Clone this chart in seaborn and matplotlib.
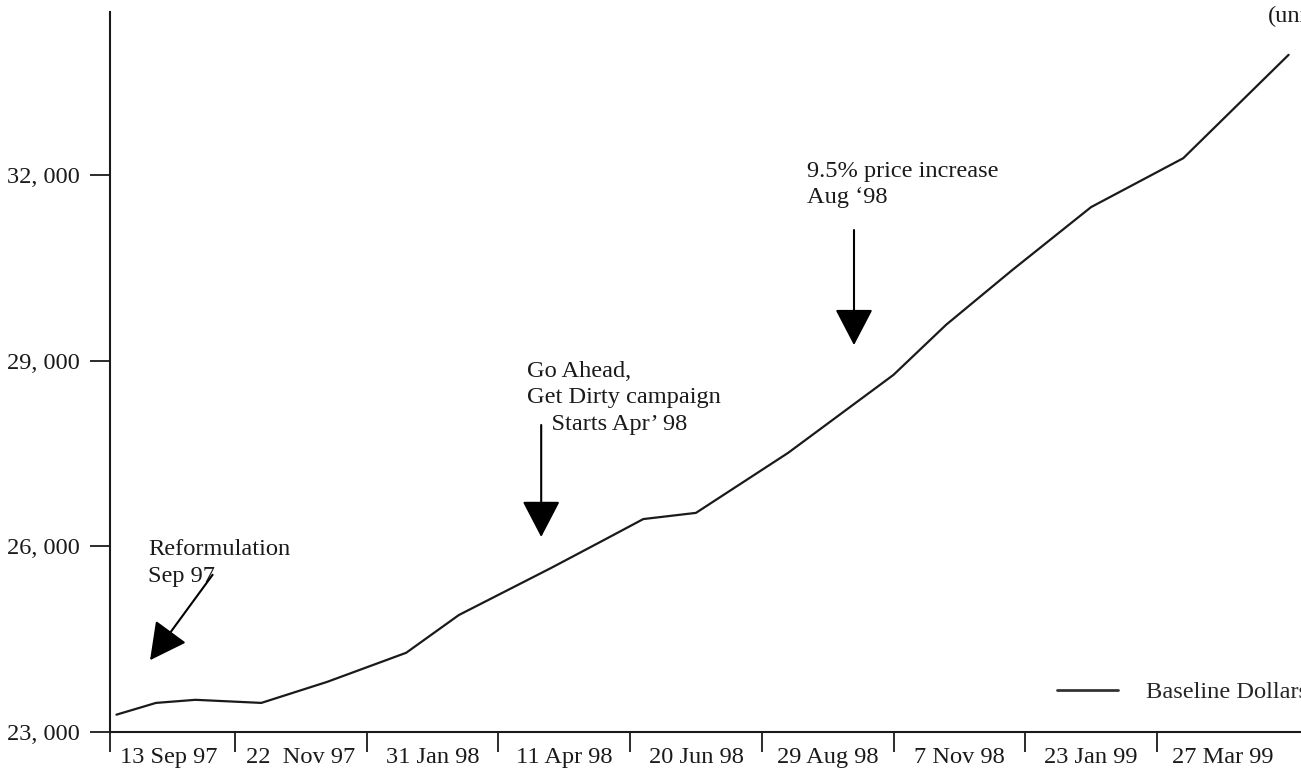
import matplotlib
matplotlib.use("Agg")
import matplotlib.pyplot as plt
import matplotlib.ticker as mticker
import seaborn as sns

# ~~~~~~~~~~~~~~~~~~~~~~~~~~~~~~~~~~~~~~~~~~~~~~~~~~~~~~~~~~~~~~~~~~~~~
# Data: weeks since 13 Sep 97, baseline dollars
# ~~~~~~~~~~~~~~~~~~~~~~~~~~~~~~~~~~~~~~~~~~~~~~~~~~~~~~~~~~~~~~~~~~~~~
weeks = [1, 4, 7, 12, 17, 23, 27, 34, 38, 41, 45, 52, 60, 64, 69, 75, 82, 90]
baseline = [23280, 23470, 23520, 23470, 23810, 24280, 24890, 25650, 26100,
            26440, 26540, 27510, 28770, 29580, 30460, 31480, 32270, 33940]

period_labels = ["13 Sep 97", "22  Nov 97", "31 Jan 98", "11 Apr 98", "20 Jun 98",
                 "29 Aug 98", "7 Nov 98", "23 Jan 99", "27 Mar 99"]
period_edges = [10, 20, 30, 40, 50, 60, 70, 80]
period_mids = [5, 15, 25, 35, 45, 55, 65, 75, 85]
y_ticks = [23000, 26000, 29000, 32000]

# (text, text pos, arrow tail, arrow tip) in weeks / dollars
events = [
    ("Reformulation\nSep 97", (3.4, 26110), (8.3, 25540), (3.55, 24160)),
    ("Go Ahead,\nGet Dirty campaign\n    Starts Apr\u2019 98", (32.2, 29000), (33.25, 27960), (33.25, 26150)),
    ("9.5% price increase\nAug \u201898", (53.4, 32230), (57.0, 31110), (57.0, 29250)),
]

# ~~~~~~~~~~~~~~~~~~~~~~~~~~~~~~~~~~~~~~~~~~~~~~~~~~~~~~~~~~~~~~~~~~~~~
sns.set_style("ticks")
plt.rcParams["font.family"] = ["Liberation Serif", "DejaVu Serif"]
ink = "#1a1a1a"
fs = 17.6

fig = plt.figure(figsize=(13.01, 7.69), dpi=100)
ax = fig.add_axes([110 / 1301, 37 / 769, 1191 / 1301, 720 / 769])

sns.lineplot(x=weeks, y=baseline, ax=ax, color=ink, lw=1.6, label="Baseline Dollars")

x_left = 0.51
ax.set_xlim(x_left, 90.94)
ax.set_ylim(23000, 34632)

sns.despine(ax=ax)
for s in ["left", "bottom"]:
    ax.spines[s].set_linewidth(1.5)
    ax.spines[s].set_color(ink)

# separators between periods, labels centred in each period
ax.set_xticks([x_left] + period_edges)
ax.set_xticklabels([])
ax.set_xticks(period_mids, minor=True)
ax.set_xticklabels(period_labels, minor=True, fontsize=fs)
ax.tick_params(axis="x", which="major", length=14.5, width=1.3, color=ink, direction="out")
ax.tick_params(axis="x", which="minor", length=0, pad=11, colors=ink)

ax.set_yticks(y_ticks)
ax.yaxis.set_major_formatter(mticker.FuncFormatter(lambda v, p: f"{v:,.0f}".replace(",", ", ")))
ax.tick_params(axis="y", length=14.5, width=1.3, color=ink, pad=7, labelsize=fs, labelcolor=ink)
ax.set_xlabel("")
ax.set_ylabel("")

for txt, tpos, tail, tip in events:
    ax.text(tpos[0], tpos[1], txt, fontsize=fs, color=ink, va="top", ha="left", linespacing=1.35)
    ax.annotate("", xy=tip, xytext=tail,
                arrowprops=dict(arrowstyle="-|>,head_length=1.15,head_width=0.6",
                                mutation_scale=20, lw=1.5, color="black", shrinkA=0, shrinkB=0))

fig.text(1268 / 1301, 1 - 16 / 769, "(units)", fontsize=fs, color=ink, va="center", ha="left")

leg = ax.legend(loc="center left", bbox_to_anchor=(1057 / 1301, 1 - 692 / 769),
                bbox_transform=fig.transFigure, frameon=False, fontsize=fs,
                handlelength=2.5, handletextpad=1.15, borderpad=0, borderaxespad=0)
for h in leg.get_lines():
    h.set_linewidth(2)
    h.set_color("#333333")

fig.savefig("out.png", dpi=100)
